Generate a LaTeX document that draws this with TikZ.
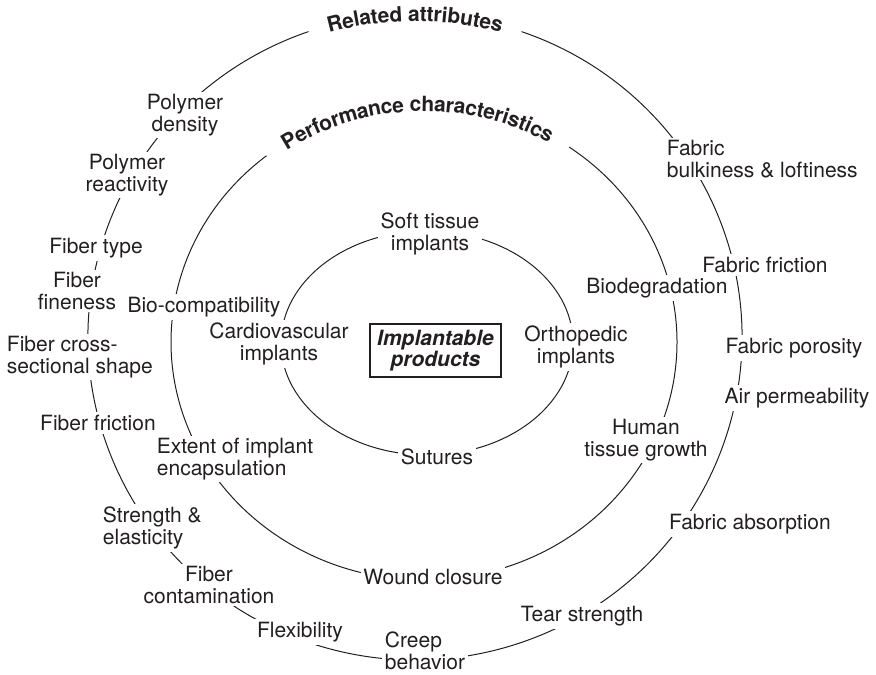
\documentclass[tikz,border=0pt]{standalone}
\usepackage{fontspec}
\setmainfont{TeX Gyre Heros}
\usetikzlibrary{decorations.text}
\definecolor{ink}{RGB}{35,31,32}
\newcommand{\lblfont}{\fontsize{15.75}{16.1}\selectfont}
\tikzset{
  ring/.style={draw=ink, line width=0.75pt},
  lbl/.style={fill=white, text=ink, inner sep=2pt, align=center, font=\lblfont},
  lblw/.style={lbl, align=left, anchor=west},
  ringtitle/.style={decorate, decoration={text along path, text align=center, raise=-5.5pt,
    text={|\lblfont\bfseries\color{ink}|#1}}},
}

\begin{document}
\begin{tikzpicture}[x=0.75pt,y=0.75pt,yscale=-1,xscale=1]
\path[use as bounding box] (0,0) rectangle (876,675);

%Shape: Ellipse, outer ring (open at the top for its title)
\draw[ring, shift={(415,337)}] (289:327 and 323) arc[start angle=289, end angle=611, x radius=327, y radius=323];
%Shape: Ellipse, middle ring
\draw[ring, shift={(424,342)}] (305:253 and 238) arc[start angle=305, end angle=591.5, x radius=253, y radius=238];
%Shape: Ellipse, inner ring
\draw[ring] (427,343) ellipse [x radius=146, y radius=112];

% Curved titles
\path[ringtitle={Related attributes}, shift={(415,337)}] (200:327 and 323) arc[start angle=200, end angle=340, x radius=327, y radius=323];
\path[ringtitle={Performance characteristics}, shift={(424,342)}] (198:253 and 238) arc[start angle=198, end angle=338.5, x radius=253, y radius=238];

% Text Node -- outer ring
\node[lbl] (polden) at (185,115) {Polymer\\density};
\node[lbl] (polreact) at (127,175) {Polymer\\reactivity};
\node[lbl] (fibtype) at (96,248) {Fiber type};
\node[lbl] (fibfine) at (77,291) {Fiber\\fineness};
\node[lblw] (fibshape) at (4,357) {Fiber cross-\\sectional shape};
\node[lbl] (fibfric) at (98,423) {Fiber friction};
\node[lblw] (strength) at (100,528) {Strength \&\\elasticity};
\node[lbl] (fibcont) at (209,585) {Fiber\\contamination};
\node[lbl] (flex) at (300,632) {Flexibility};
\node[lblw] (creep) at (382,651) {Creep\\behavior};
\node[lbl] (tear) at (582,616) {Tear strength};
\node[lbl] (absorb) at (750,524) {Fabric absorption};
\node[lbl] (airperm) at (797,398) {Air permeability};
\node[lbl] (porosity) at (794,348) {Fabric porosity};
\node[lbl] (fabfric) at (765,265) {Fabric friction};
\node[lblw] (bulk) at (664,159) {Fabric\\bulkiness \& loftiness};

% Text Node -- middle ring
\node[lbl] (biocomp) at (204,307) {Bio-compatibility};
\node[lblw] (encaps) at (154,459) {Extent of implant\\encapsulation};
\node[lbl] (wound) at (433,577) {Wound closure};
\node[lbl] (growth) at (646,440) {Human\\tissue growth};
\node[lbl] (biodeg) at (657,288) {Biodegradation};

% Text Node -- inner ring
\node[lbl] (soft) at (430,234) {Soft tissue\\implants};
\node[lbl] (cardio) at (279,344) {Cardiovascular\\implants};
\node[lbl] (ortho) at (576,347) {Orthopedic\\implants};
\node[lbl] (sutures) at (437,457) {Sutures};

% Text Node -- centre box
\node[draw=ink, line width=1pt, text=ink, font=\lblfont\bfseries\itshape, align=center,
  minimum width=98.25pt, minimum height=39.75pt, inner sep=0pt] (implant) at (435.5,350.5) {Implantable\\products};

\end{tikzpicture}
\end{document}
